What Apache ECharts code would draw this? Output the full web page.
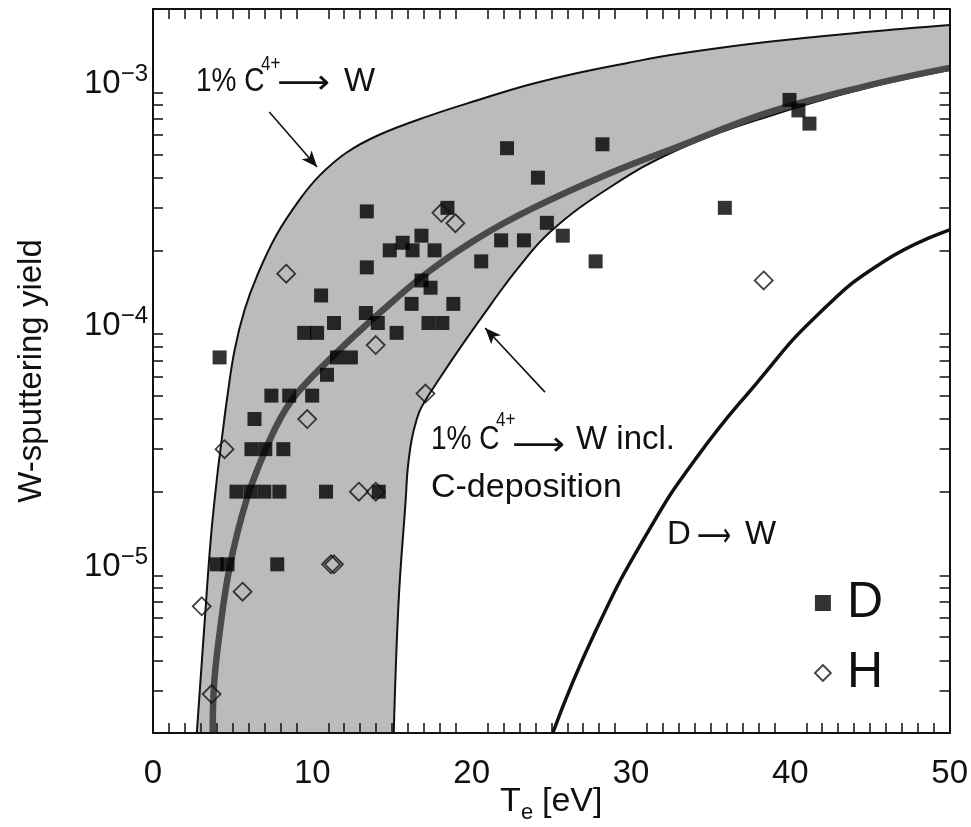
<!DOCTYPE html>
<html>
<head>
<meta charset="utf-8">
<script src="https://cdn.jsdelivr.net/npm/echarts@6.0.0/dist/echarts.min.js"></script>
<style>
  html, body { margin: 0; padding: 0; background: #fff; }
  #chart { width: 971px; height: 827px; }
</style>
</head>
<body>
<div id="chart"></div>
<script>
var FONT = '"Liberation Sans", Arial, Helvetica, sans-serif';
var ARROWFONT = '"DejaVu Sans", sans-serif';

// axis ticks
var xTicks = [0, 10, 20, 30, 40, 50];
var yDecades = [-5, -4, -3];
var yRange = [2e-6, 2e-3];

// model curves [Te, yield]
var upperC = [[2.75, 2e-6], [3.25, 5.87e-6], [3.62, 1.26e-5], [4.0, 2.23e-5], [4.31, 3.27e-5],
  [4.68, 5.03e-5], [5.12, 7.72e-5], [5.74, 1.13e-4], [6.55, 1.58e-4], [7.74, 2.31e-4],
  [9.18, 3.23e-4], [10.42, 4.06e-4], [12.11, 5.06e-4], [14.17, 6.01e-4], [17.29, 7.2e-4],
  [20.41, 8.39e-4], [23.53, 9.68e-4], [26.65, 1.086e-3], [29.78, 1.195e-3], [32.9, 1.302e-3],
  [38.5, 1.46e-3], [44.76, 1.606e-3], [50, 1.717e-3]];
var lowerC = [[15.11, 2e-6], [15.42, 7.11e-6], [15.86, 1.85e-5], [15.98, 2.46e-5], [16.23, 3.27e-5],
  [16.54, 3.96e-5], [16.85, 4.48e-5], [17.92, 5.8e-5], [19.35, 8.02e-5], [21.22, 1.198e-4],
  [22.91, 1.689e-4], [24.97, 2.4e-4], [28.71, 3.66e-4], [32.9, 5.21e-4], [38.5, 7.14e-4],
  [44.76, 9.41e-4], [50, 1.117e-3]];
var midC = [[3.75, 2e-6], [3.81, 3.01e-6], [4.18, 5.19e-6], [4.81, 9.74e-6], [5.87, 1.85e-5],
  [7.05, 2.97e-5], [8.05, 4.08e-5], [9.05, 5.12e-5], [11.36, 7.36e-5], [14.29, 1.11e-4],
  [17.29, 1.63e-4], [20.41, 2.25e-4], [23.85, 2.99e-4], [28.71, 4.18e-4], [32.9, 5.36e-4],
  [38.5, 7.41e-4], [44.76, 9.59e-4], [50, 1.14e-3]];
var dwC = [[25.09, 2e-6], [27.72, 5.19e-6], [31.02, 1.347e-5], [34.14, 2.78e-5], [37.89, 5.64e-5],
  [41.64, 1.069e-4], [45.82, 1.79e-4], [50, 2.43e-4]];

// measurements
var dData = [[4.18, 7.2e-5], [4.0, 1.0e-5], [4.68, 1.0e-5], [7.8, 1.0e-5], [5.24, 2.0e-5],
  [6.12, 2.0e-5], [6.99, 2.0e-5], [7.93, 2.0e-5], [10.86, 2.0e-5], [14.17, 2.0e-5],
  [6.18, 3.0e-5], [7.05, 3.0e-5], [8.18, 3.0e-5], [6.37, 4.0e-5], [7.43, 5.0e-5],
  [8.55, 5.0e-5], [9.99, 5.0e-5], [10.92, 6.1e-5], [11.55, 7.2e-5], [12.42, 7.2e-5],
  [9.49, 9.1e-5], [10.3, 9.1e-5], [11.36, 1.0e-4], [13.36, 1.1e-4], [14.11, 1.0e-4],
  [15.29, 9.1e-5], [16.23, 1.2e-4], [10.55, 1.3e-4], [16.85, 1.5e-4], [17.42, 1.4e-4],
  [18.85, 1.2e-4], [17.29, 1.0e-4], [18.16, 1.0e-4], [13.42, 1.7e-4], [20.6, 1.8e-4],
  [21.85, 2.2e-4], [23.28, 2.2e-4], [13.42, 2.9e-4], [18.48, 3.0e-4], [16.85, 2.3e-4],
  [14.86, 2.0e-4], [15.67, 2.15e-4], [16.29, 2.0e-4], [17.67, 2.0e-4], [22.22, 5.3e-4],
  [28.21, 5.5e-4], [24.16, 4.0e-4], [24.72, 2.6e-4], [25.72, 2.3e-4], [27.78, 1.8e-4],
  [35.89, 3.0e-4], [39.95, 8.4e-4], [40.51, 7.6e-4], [41.2, 6.7e-4]];
var hData = [[8.36, 1.6e-4], [13.98, 8.1e-5], [9.68, 4.0e-5], [4.49, 3.0e-5], [12.92, 2.0e-5],
  [13.98, 2.0e-5], [17.1, 5.1e-5], [11.17, 1.0e-5], [11.36, 1.0e-5], [5.62, 7.7e-6],
  [3.06, 6.7e-6], [3.68, 2.9e-6], [18.1, 2.86e-4], [18.98, 2.59e-4], [38.33, 1.5e-4]];

// annotation arrows [from, to]
var arrowLines = [[[7.3, 7.48e-4], [10.3, 4.43e-4]], [[24.6, 5.17e-5], [20.85, 9.53e-5]]];

var chart = echarts.init(document.getElementById('chart'));

var axisLine = { show: true, onZero: false, lineStyle: { color: '#111', width: 2 } };
var minorX = { show: true, splitNumber: 10, length: 10, lineStyle: { color: '#111', width: 1.5 } };
var minorY = { show: true, splitNumber: 9, length: 10, lineStyle: { color: '#111', width: 1.5 } };

function xAxis(pos, labels) {
  return {
    type: 'value', position: pos, min: xTicks[0], max: xTicks[xTicks.length - 1], interval: 10, z: 10,
    axisLine: axisLine, axisTick: { show: false, inside: true }, minorTick: minorX,
    splitLine: { show: false }, minorSplitLine: { show: false },
    axisLabel: { show: labels, fontSize: 33, color: '#111', fontFamily: FONT, margin: 24 }
  };
}
function yAxis(pos, labels) {
  return {
    type: 'log', logBase: 10, position: pos, min: yRange[0], max: yRange[1], z: 10,
    axisLine: axisLine, axisTick: { show: false, inside: true }, minorTick: minorY,
    splitLine: { show: false }, minorSplitLine: { show: false },
    axisLabel: {
      show: labels, margin: 5,
      formatter: function (v) {
        var l = Math.log10(v), e = Math.round(l);
        if (Math.abs(l - e) > 1e-6 || yDecades.indexOf(e) < 0) return '';
        return '{b|10}{s|\u2212' + Math.abs(e) + '}';
      },
      rich: {
        b: { fontSize: 33, lineHeight: 33, fontFamily: FONT, color: '#111', verticalAlign: 'bottom' },
        s: { fontSize: 24, fontFamily: FONT, color: '#111', verticalAlign: 'top', padding: [0, 0, 14, 0] }
      }
    }
  };
}

var ly = yAxis('left', true);
ly.name = 'W-sputtering yield';
ly.nameLocation = 'middle';
ly.nameGap = 105;
ly.nameTextStyle = { fontSize: 33, fontFamily: FONT, color: '#111' };

function txt(x, y, s, size, sx, family) {
  return {
    type: 'text', x: x, y: y, scaleX: sx, z: 20, silent: true,
    style: { text: s, fontSize: size, fontFamily: family || FONT, fill: '#111', verticalAlign: 'middle', align: 'left' }
  };
}

var option = {
  animation: false,
  backgroundColor: '#fff',
  grid: { left: 153, right: 17, top: 9, bottom: 94 },
  xAxis: [xAxis('bottom', true), xAxis('top', false)],
  yAxis: [ly, yAxis('right', false)],
  legend: {
    orient: 'vertical', left: 809, top: 572, itemWidth: 16, itemHeight: 16, itemGap: 18,
    selectedMode: false,
    textStyle: { fontSize: 50, lineHeight: 52, fontFamily: FONT, color: '#111', padding: [0, 0, 0, 11] },
    data: [
      { name: 'D', icon: 'rect', itemStyle: { color: '#000', borderWidth: 0 } },
      { name: 'H', icon: 'diamond', itemStyle: { color: '#fff', borderColor: '#111', borderWidth: 1.8 } }
    ]
  },
  graphic: [
    // x-axis title
    txt(500, 802, 'T', 34, 1),
    txt(521, 813, 'e', 22, 1),
    txt(542, 802, '[eV]', 34, 1),
    // annotations
    txt(196, 82, '1% C', 33, 0.85),
    txt(261, 64, '4+', 20, 0.85),
    txt(277, 84, '\u27f6', 33, 1.12, ARROWFONT),
    txt(344, 82, 'W', 33, 1),
    txt(431, 440, '1% C', 33, 0.85),
    txt(496, 420, '4+', 20, 0.85),
    txt(512, 446, '\u27f6', 33, 1.12, ARROWFONT),
    txt(576, 440, 'W incl.', 33, 1),
    txt(431, 488, 'C-deposition', 33, 1.03),
    txt(667, 535, 'D', 33, 1),
    txt(697, 537, '\u27f6', 33, 0.72, ARROWFONT),
    txt(745, 535, 'W', 33, 1)
  ],
  series: [
    {
      name: 'upper', type: 'line', data: upperC, smooth: 0.4, showSymbol: false, silent: true,
      lineStyle: { color: '#111', width: 2 },
      areaStyle: { color: '#bbbbbb', opacity: 1, origin: 'start' }
    },
    {
      name: 'lower', type: 'line', data: lowerC, smooth: 0.4, showSymbol: false, silent: true,
      lineStyle: { color: '#111', width: 2 },
      areaStyle: { color: '#ffffff', opacity: 1, origin: 'start' }
    },
    {
      name: 'mid', type: 'line', data: midC, smooth: 0.4, showSymbol: false, silent: true,
      lineStyle: { color: '#4a4a4a', width: 6.5 }
    },
    {
      name: 'DW', type: 'line', data: dwC, smooth: 0.5, showSymbol: false, silent: true,
      lineStyle: { color: '#111', width: 3.5 },
      markLine: {
        silent: true, animation: false, symbol: ['none', 'arrow'], symbolSize: [10, 16],
        label: { show: false }, emphasis: { disabled: true },
        lineStyle: { color: '#111', width: 1.6, type: 'solid' },
        data: arrowLines.map(function (a) { return [{ coord: a[0] }, { coord: a[1] }]; })
      }
    },
    {
      name: 'D', type: 'scatter', data: dData, symbol: 'rect', symbolSize: 14, z: 5,
      itemStyle: { color: '#000' }
    },
    {
      name: 'H', type: 'scatter', data: hData, symbol: 'diamond', symbolSize: 18, z: 6,
      itemStyle: { color: 'rgba(0,0,0,0)', borderColor: '#111', borderWidth: 1.8 }
    }
  ]
};

chart.setOption(option);
</script>
</body>
</html>
